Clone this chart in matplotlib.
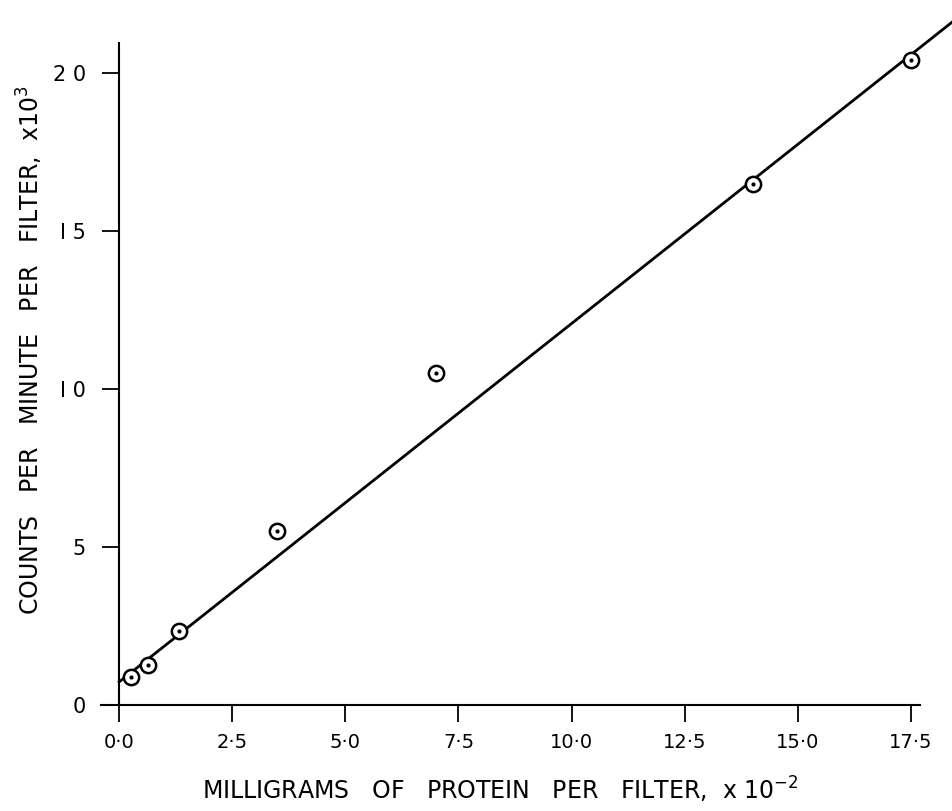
import matplotlib
matplotlib.use("Agg")
import matplotlib.pyplot as plt

# Data
protein_mg = [0.26, 0.64, 1.32, 3.5, 7.0, 14.0, 17.5]
counts_k = [0.89, 1.27, 2.34, 5.5, 10.5, 16.5, 20.4]
fit_x = [0.0, 18.4]
fit_y = [0.73, 21.6]
x_ticks = [0.0, 2.5, 5.0, 7.5, 10.0, 12.5, 15.0, 17.5]
x_tick_labels = ["0·0", "2·5", "5·0", "7·5", "10·0", "12·5", "15·0", "17·5"]
y_ticks = [0, 5, 10, 15, 20]
y_tick_labels = ["0", "5", "I 0", "I 5", "2 0"]

plt.rcParams['font.family'] = ['DejaVu Sans']

fig = plt.figure(figsize=(9.53, 8.11), dpi=100)
ax = fig.add_axes([101/953, 1-705/811, (920-101)/953, (705-43)/811])

ax.plot(fit_x, fit_y, color='black', lw=2.0, clip_on=False, zorder=2)
ax.plot(protein_mg, counts_k, linestyle='none', marker='o', ms=11,
        mfc='white', mec='black', mew=1.8, zorder=3, clip_on=False)
ax.plot(protein_mg, counts_k, linestyle='none', marker='o', ms=2,
        color='black', zorder=4, clip_on=False)

ax.set_xlim(-0.4, 17.7)
ax.set_ylim(0, 20.95)
ax.spines['top'].set_visible(False)
ax.spines['right'].set_visible(False)
ax.spines['left'].set_position(('data', 0))
ax.spines['left'].set_linewidth(1.5)
ax.spines['bottom'].set_linewidth(1.5)

ax.set_xticks(x_ticks)
ax.set_xticklabels(x_tick_labels, fontsize=14)
ax.set_yticks(y_ticks)
ax.set_yticklabels(y_tick_labels, fontsize=15)
ax.tick_params(axis='x', direction='out', length=12, width=1.3, pad=8)
ax.tick_params(axis='y', direction='out', length=12, width=1.3, pad=12)

fig.text(500/953, 1-790/811, "MILLIGRAMS   OF   PROTEIN   PER   FILTER,  x 10$^{-2}$",
         ha='center', va='center', fontsize=17)
fig.text(30/953, 1-350/811, "COUNTS   PER   MINUTE   PER   FILTER,  x10$^{3}$",
         ha='center', va='center', rotation=90, fontsize=17)

fig.savefig("out.png", dpi=100, facecolor='white')
